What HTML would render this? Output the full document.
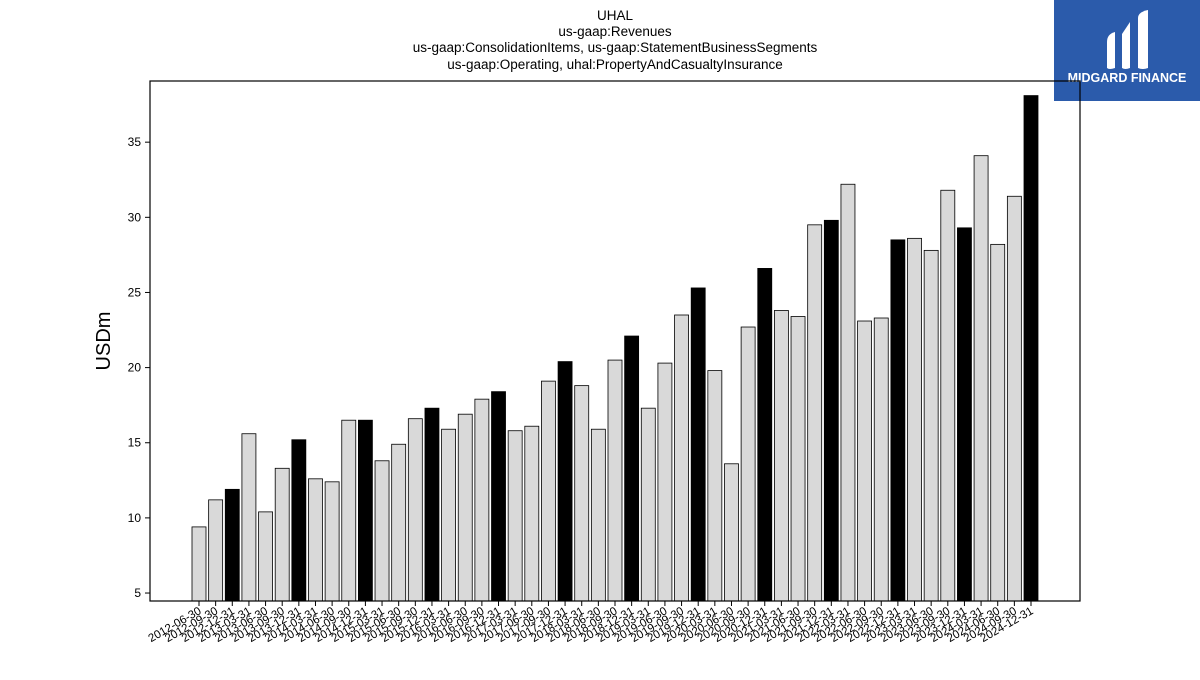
<!DOCTYPE html>
<html><head><meta charset="utf-8">
<style>
body{margin:0;background:#fff;width:1200px;height:675px;overflow:hidden;font-family:"Liberation Sans","DejaVu Sans",sans-serif;}
</style></head>
<body>
<svg width="1200" height="675" xmlns="http://www.w3.org/2000/svg">
<g font-size="13.5" text-anchor="middle" fill="#000">
<text x="615" y="20">UHAL</text>
<text x="615" y="36">us-gaap:Revenues</text>
<text x="615" y="52">us-gaap:ConsolidationItems, us-gaap:StatementBusinessSegments</text>
<text x="615" y="69">us-gaap:Operating, uhal:PropertyAndCasualtyInsurance</text>
</g>
<g>
<rect x="1054" y="0" width="146" height="101" fill="#2b5bab"/>
<path d="M1107,42 q0,-8 8,-10 l0,36 q-6,2 -8,0z" fill="#fff"/>
<path d="M1122,34 l8,-12 0,46 q-5,2 -8,0z" fill="#fff"/>
<path d="M1138,18 q0,-6 10,-8 l0,58 q-6,2 -10,0z" fill="#fff"/>
<text x="1127" y="82" font-size="12.5" font-weight="bold" fill="#fff" text-anchor="middle">MIDGARD FINANCE</text>
</g>
<g id="plot"></g>
</svg>
<script>
const categories=["2012-06-30","2012-09-30","2012-12-31","2013-03-31","2013-06-30","2013-09-30","2013-12-31","2014-03-31","2014-06-30","2014-09-30","2014-12-31","2015-03-31","2015-06-30","2015-09-30","2015-12-31","2016-03-31","2016-06-30","2016-09-30","2016-12-31","2017-03-31","2017-06-30","2017-09-30","2017-12-31","2018-03-31","2018-06-30","2018-09-30","2018-12-31","2019-03-31","2019-06-30","2019-09-30","2019-12-31","2020-03-31","2020-06-30","2020-09-30","2020-12-31","2021-03-31","2021-06-30","2021-09-30","2021-12-31","2022-03-31","2022-06-30","2022-09-30","2022-12-31","2023-03-31","2023-06-30","2023-09-30","2023-12-31","2024-03-31","2024-06-30","2024-09-30","2024-12-31"];
const values=[9.4,11.2,11.9,15.6,10.4,13.3,15.2,12.6,12.4,16.5,16.5,13.8,14.9,16.6,17.3,15.9,16.9,17.9,18.4,15.8,16.1,19.1,20.4,18.8,15.9,20.5,22.1,17.3,20.3,23.5,25.3,19.8,13.6,22.7,26.6,23.8,23.4,29.5,29.8,32.2,23.1,23.3,28.5,28.6,27.8,31.8,29.3,34.1,28.2,31.4,38.1];
const yTicks=[5,10,15,20,25,30,35];
const NS="http://www.w3.org/2000/svg";
const L=150,R=1080,T=81,B=601,yMin=4.47,yMax=39.07;
const y=v=>B-(v-yMin)/(yMax-yMin)*(B-T);
const step=(1031-199)/(categories.length-1);
const x=i=>199+i*step;
const g=document.getElementById('plot');
function mk(tag,attrs,parent){const e=document.createElementNS(NS,tag);for(const k in attrs)e.setAttribute(k,attrs[k]);(parent||g).appendChild(e);return e;}
values.forEach((v,i)=>{
 const r=mk('rect',{x:x(i)-7,y:y(v),width:14,height:B-y(v),fill:(i%4===2)?'#000':'#d9d9d9',stroke:'#000','stroke-width':0.8});
 
 
});
const ax=mk('rect',{x:L,y:T,width:R-L,height:B-T,fill:'none',stroke:'#000','stroke-width':1.2});


yTicks.forEach(t=>{
 const ln=mk('line',{x1:L-5,x2:L,y1:y(t),y2:y(t),stroke:'#000'});
 
 
 const tx=mk('text',{x:L-9,y:y(t)+4,'font-size':12,'text-anchor':'end'});
 tx.textContent=t;
 
 
});
categories.forEach((c,i)=>{
 const ln=mk('line',{x1:x(i),x2:x(i),y1:B,y2:B+5,stroke:'#000'});
 
 
 const tx=mk('text',{x:x(i)+3,y:B+12,'font-size':11.5,'text-anchor':'end',transform:`rotate(-30 ${x(i)+3} ${B+12})`});
 tx.textContent=c;
 
 
});
const yl=mk('text',{x:110,y:341,'font-size':20,'text-anchor':'middle',transform:'rotate(-90 110 341)'});
yl.textContent='USDm';


</script>
</body></html>
